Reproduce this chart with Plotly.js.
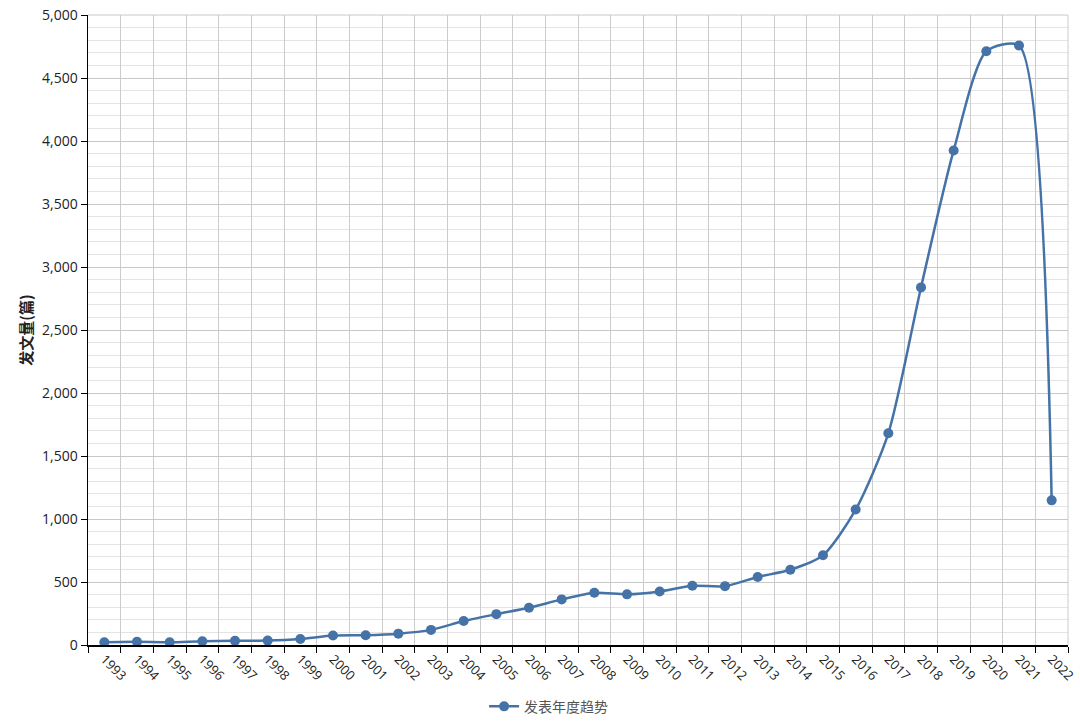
<!DOCTYPE html>
<html>
<head>
<meta charset="utf-8">
<script src="https://cdn.plot.ly/plotly-3.0.1.min.js"></script>
<style>html,body{margin:0;padding:0;background:#fff;}#chart{width:1080px;height:728px;}</style>
</head>
<body>
<div id="chart"></div>
<script>
const years = ['1993','1994','1995','1996','1997','1998','1999','2000','2001','2002','2003','2004','2005','2006','2007','2008','2009','2010','2011','2012','2013','2014','2015','2016','2017','2018','2019','2020','2021','2022'];
const counts = [22,25,22,30,33,35,48,75,78,90,120,190,245,295,362,415,402,425,470,467,540,597,712,1075,1680,2838,3925,4712,4758,1148];
const seriesName = '发表年度趋势';
const yTitle = '发文量(篇)';

const font = '"Open Sans", "Noto Sans CJK SC", sans-serif';
const trace = {
  type: 'scatter', mode: 'lines+markers', name: seriesName,
  x: years, y: counts,
  line: {color: '#4572A7', width: 2.5, shape: 'spline', smoothing: 0.7},
  marker: {color: '#4572A7', size: 10}
};
const layout = {
  width: 1080, height: 728,
  margin: {l: 88, r: 12, t: 15, b: 83, autoexpand: false},
  paper_bgcolor: '#fff', plot_bgcolor: '#fff',
  font: {family: font, size: 13, color: '#222'},
  showlegend: true,
  legend: {orientation: 'h', x: 0.47, xanchor: 'center', y: -0.098, yanchor: 'middle',
           font: {size: 14, color: '#555', family: '"Noto Sans CJK SC", sans-serif'}},
  xaxis: {type: 'category', tickson: 'boundaries', showgrid: true, gridcolor: '#cccccc', gridwidth: 1,
          showline: true, linecolor: '#000', linewidth: 1.5, ticks: 'outside', ticklen: 6, tickcolor: '#000',
          tickangle: 45, tickfont: {size: 13, color: '#222'}, range: [-0.5, 29.5], zeroline: false,
          automargin: false},
  yaxis: {range: [0, 5000], dtick: 500, tickformat: ',d', showgrid: true, gridcolor: '#c8c8c8', gridwidth: 1,
          minor: {dtick: 100, showgrid: true, gridcolor: '#e4e4e4', gridwidth: 1},
          showline: true, linecolor: '#000', linewidth: 1.5, ticks: 'outside', ticklen: 6, tickcolor: '#000',
          zeroline: false, tickfont: {size: 14, color: '#222'}, automargin: false,
          title: {text: yTitle, font: {size: 15, color: '#222', family: '"Noto Sans CJK SC", sans-serif', weight: 'bold'}, standoff: 6}},
  shapes: [
    {type: 'line', xref: 'paper', yref: 'paper', x0: 1, x1: 1, y0: 0, y1: 1, line: {color: '#cccccc', width: 1}},
    {type: 'line', xref: 'paper', yref: 'paper', x0: 0, x1: 1, y0: 1, y1: 1, line: {color: '#c8c8c8', width: 1}}
  ]
};
Plotly.newPlot('chart', [trace], layout, {displayModeBar: false, staticPlot: true});
</script>
</body>
</html>
